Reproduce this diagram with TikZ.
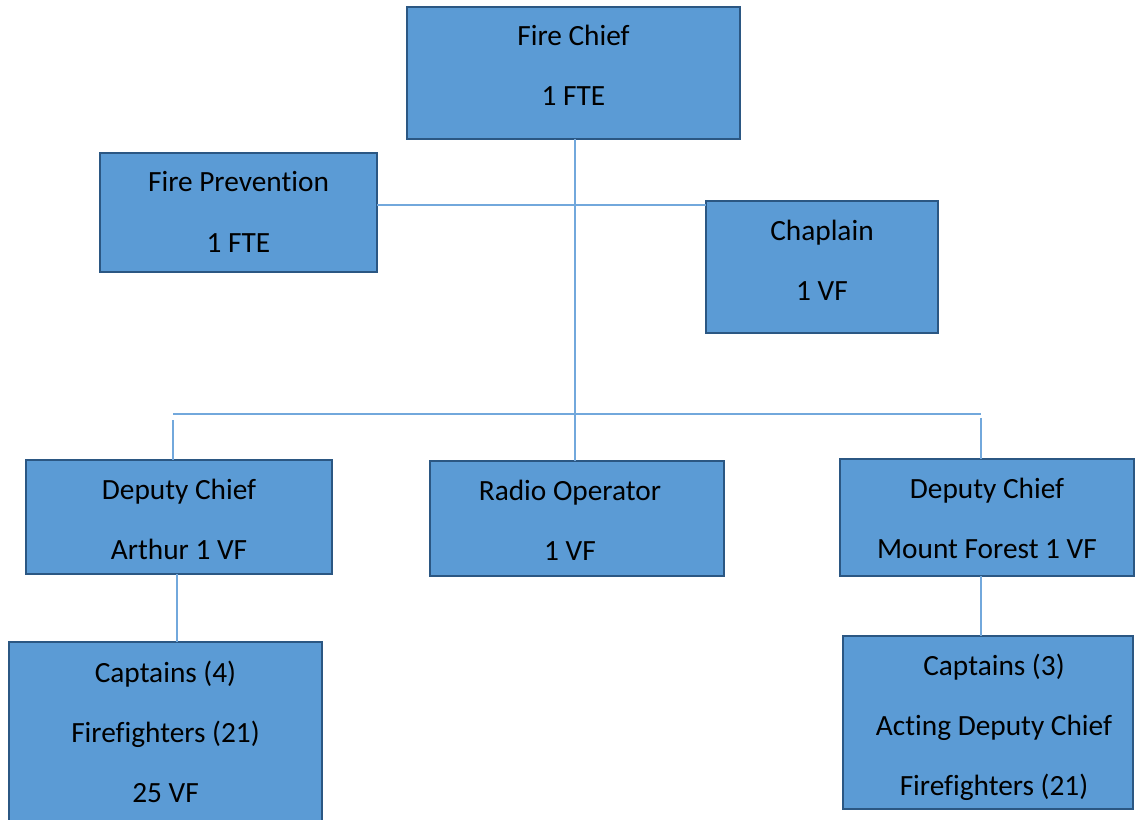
\documentclass[tikz,border=0pt]{standalone}
\usepackage{fontspec}
\setmainfont{Carlito}[Ligatures={NoCommon,NoRare,NoContextual}]
\definecolor{boxfill}{HTML}{5B9BD5}
\definecolor{boxline}{HTML}{2B5783}
\definecolor{connline}{HTML}{72A8DC}
\tikzset{
  orgbox/.style 2 args={draw=boxline, fill=boxfill, line width=2.1pt, inner sep=0pt, outer sep=0pt,
    minimum width={#1*0.75pt}, minimum height={#2*0.75pt}},
  orgtxt/.style={font=\fontsize{22}{45}\selectfont, align=center, anchor=base, inner sep=0pt, text=black},
  conn/.style={draw=connline, line width=1pt}
}
\begin{document}
\begin{tikzpicture}[x=0.75pt,y=-0.75pt]
\useasboundingbox (0,0) rectangle (1135,820);
\clip (0,0) rectangle (1135,820);
% boxes
\node[orgbox={333}{132}] (fc) at (573.5,73) {};
\node[orgbox={277}{119}] (fp) at (238.5,212.5) {};
\node[orgbox={232}{132}] (ch) at (822,267) {};
\node[orgbox={306}{114}] (dca) at (179,517) {};
\node[orgbox={294}{115}] (ro) at (577,518.5) {};
\node[orgbox={294}{117}] (dcm) at (987,517.5) {};
\node[orgbox={313}{190}] (cap4) at (165.5,737) {};
\node[orgbox={290}{173}] (cap3) at (988,722.5) {};
% connector coordinates
\coordinate (midy) at (575,205);
\coordinate (barL) at (173,414);
\coordinate (barR) at (981,414);
\coordinate (dropL) at (173,420);
\coordinate (dropR) at (981,418);
\coordinate (dropA) at (177,600);
% connectors
\draw[conn] (fc.south -| midy) -- (ro.north -| midy);
\draw[conn] (fp.east |- midy) -- (ch.west |- midy);
\draw[conn] (barL) -- (barR);
\draw[conn] (dropL) -- (dca.north -| dropL);
\draw[conn] (dropR) -- (dcm.north -| dropR);
\draw[conn] (dca.south -| dropA) -- (cap4.north -| dropA);
\draw[conn] (dcm.south -| dropR) -- (cap3.north -| dropR);
% texts (anchor=base = baseline of last line)
\node[orgtxt] (fcT) at (573.5,106) {Fire Chief\\1 FTE};
\node[orgtxt] (fpT) at (238.5,252) {Fire Prevention\\1 FTE};
\node[orgtxt] (chT) at (822,300) {Chaplain\\1 VF};
\node[orgtxt] (dcaT) at (179,559) {Deputy Chief\\Arthur 1 VF};
\node[orgtxt] (roT) at (570,560) {Radio Operator\\1 VF};
\node[orgtxt] (dcmT) at (987,558) {Deputy Chief\\Mount Forest 1 VF};
\node[orgtxt] (cap4T) at (165.5,802) {Captains (4)\\Firefighters (21)\\25 VF};
\node[orgtxt] (cap3T) at (994,795) {Captains (3)\\Acting Deputy Chief\\Firefighters (21)};
\end{tikzpicture}
\end{document}
